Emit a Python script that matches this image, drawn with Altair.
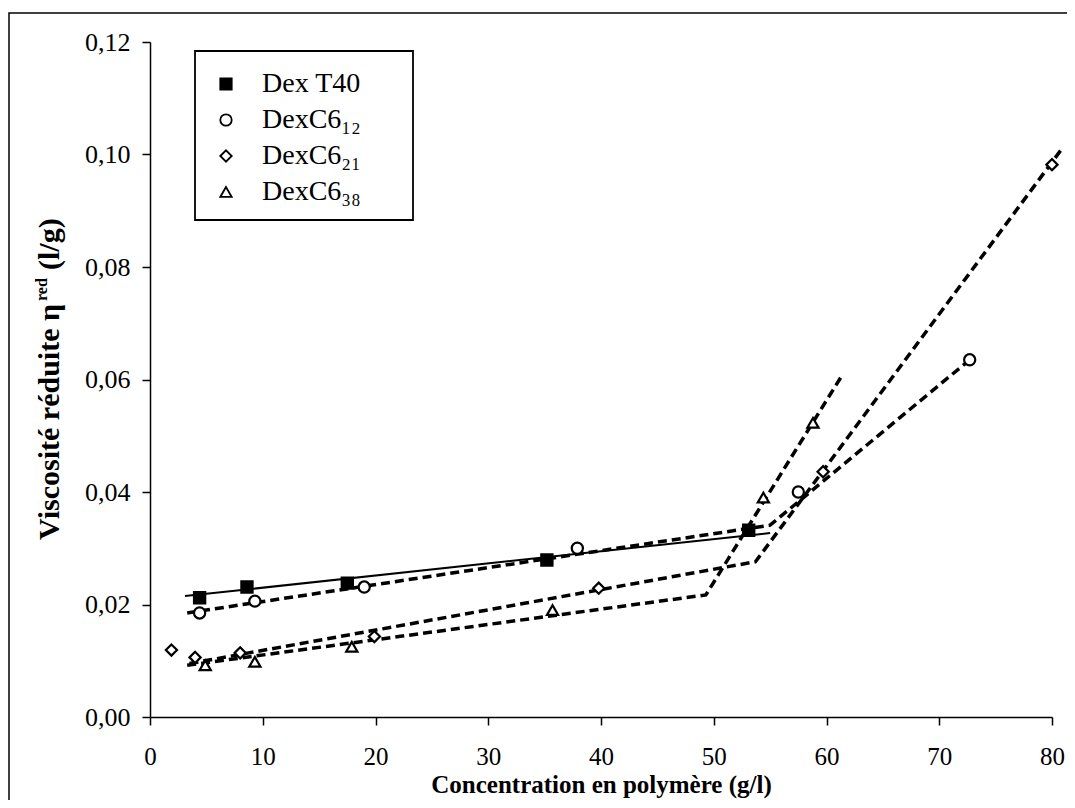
import altair as alt
import pandas as pd

# ---------------- data ----------------
series_names = ["Dex T40", "DexC6₁₂", "DexC6₂₁", "DexC6₃₈"]
series_shapes = ["square", "circle", "diamond", "triangle-up"]
series_fills = ["black", "white", "white", "white"]
series_strokes = ["black", "black", "black", "black"]

t40_x = [4.4, 8.6, 17.5, 35.2, 53.1]
t40_y = [0.0212, 0.0231, 0.0238, 0.0279, 0.0332]

c12_x = [4.4, 9.3, 19.0, 37.9, 57.5, 72.7]
c12_y = [0.0185, 0.0206, 0.0231, 0.0300, 0.0400, 0.0635]

c21_x = [1.9, 4.0, 8.0, 19.9, 39.8, 59.7, 80.0]
c21_y = [0.0119, 0.0106, 0.0114, 0.0143, 0.0229, 0.0436, 0.0982]

c38_x = [4.9, 9.3, 17.9, 35.7, 54.4, 58.8]
c38_y = [0.0092, 0.0098, 0.0125, 0.0190, 0.0390, 0.0523]

# fitted straight lines (end points / break points)
fit_t40_x = [3.1, 55.0]
fit_t40_y = [0.0215, 0.0327]
fit_c12_x = [3.3, 55.0, 73.0]
fit_c12_y = [0.0185, 0.0341, 0.0640]
fit_c21_x = [3.5, 53.7, 80.8]
fit_c21_y = [0.0095, 0.0276, 0.1008]
fit_c38_x = [3.3, 49.3, 61.4]
fit_c38_y = [0.0092, 0.0217, 0.0608]

x_ticks = [0, 10, 20, 30, 40, 50, 60, 70, 80]
y_ticks = [0.0, 0.02, 0.04, 0.06, 0.08, 0.10, 0.12]

# ---------------- tables ----------------
pts = []
for name, xs, ys in zip(series_names, [t40_x, c12_x, c21_x, c38_x], [t40_y, c12_y, c21_y, c38_y]):
    for a, b in zip(xs, ys):
        pts.append({"x": a, "y": b, "serie": name})
points_df = pd.DataFrame(pts)

fits = []
for name, xs, ys in zip(series_names,
                        [fit_t40_x, fit_c12_x, fit_c21_x, fit_c38_x],
                        [fit_t40_y, fit_c12_y, fit_c21_y, fit_c38_y]):
    for i, (a, b) in enumerate(zip(xs, ys)):
        fits.append({"x": a, "y": b, "serie": name, "o": i})
fits_df = pd.DataFrame(fits)

FONT = "Liberation Serif"
W, H = 902, 675

xscale = alt.Scale(domain=[0, 80], nice=False, zero=False)
yscale = alt.Scale(domain=[0, 0.12], nice=False, zero=False)

x_axis = alt.Axis(values=x_ticks, title="Concentration en polymère (g/l)",
                  grid=False, tickSize=8, labelPadding=19, titlePadding=3,
                  labelFontSize=25, titleFontSize=25, titleFontWeight="bold",
                  labelFont=FONT, titleFont=FONT, domainColor="black", tickColor="black",
                  labelColor="black", titleColor="black", domainWidth=1.5, tickWidth=1.5,
                  labelFlush=False, labelOverlap=False)
y_axis = alt.Axis(values=y_ticks, title=None, grid=False, tickSize=8, labelPadding=12,
                  labelFontSize=26, labelFont=FONT, labelColor="black",
                  domainColor="black", tickColor="black", domainWidth=1.5, tickWidth=1.5,
                  labelExpr="replace(format(datum.value, '.2f'), '.', ',')",
                  labelFlush=False, labelOverlap=False)

base_x = alt.X("x:Q", scale=xscale, axis=x_axis)
base_y = alt.Y("y:Q", scale=yscale, axis=y_axis)

solid = alt.Chart(fits_df).transform_filter(alt.datum.serie == series_names[0]).mark_line(
    color="black", strokeWidth=2).encode(x=base_x, y=base_y, order="o:Q", detail="serie:N")

dashed = alt.Chart(fits_df).transform_filter(alt.datum.serie != series_names[0]).mark_line(
    color="black", strokeWidth=3.5, strokeDash=[9, 5]).encode(
    x=base_x, y=base_y, order="o:Q", detail="serie:N")

leg = alt.Legend(title=None)
points = alt.Chart(points_df).mark_point(strokeWidth=2.2, opacity=1, size=125).encode(
    x=base_x, y=base_y,
    shape=alt.Shape("serie:N", scale=alt.Scale(domain=series_names, range=series_shapes),
                    legend=leg),
    fill=alt.Fill("serie:N", scale=alt.Scale(domain=series_names, range=series_fills),
                  legend=leg),
    stroke=alt.Stroke("serie:N", scale=alt.Scale(domain=series_names, range=series_strokes),
                      legend=leg),
)

# y-axis title with subscript (decoration placed outside the plot area)
ytitle1 = alt.Chart(pd.DataFrame({"t": ["Viscosité réduite η"]})).mark_text(
    font=FONT, fontSize=30, fontWeight="bold", angle=270, align="right", baseline="middle",
    color="black").encode(text="t:N", x=alt.value(-100), y=alt.value(262))
ytitle2 = alt.Chart(pd.DataFrame({"t": ["red"]})).mark_text(
    font=FONT, fontSize=16, fontWeight="bold", angle=270, align="left", baseline="middle",
    color="black").encode(text="t:N", x=alt.value(-108), y=alt.value(259))
ytitle3 = alt.Chart(pd.DataFrame({"t": ["(l/g)"]})).mark_text(
    font=FONT, fontSize=30, fontWeight="bold", angle=270, align="left", baseline="middle",
    color="black").encode(text="t:N", x=alt.value(-100), y=alt.value(228))

# outer figure frame and legend box (decoration)
frame = alt.Chart(pd.DataFrame({"a": [0]})).mark_rect(
    fill=None, stroke="black", strokeWidth=1.5).encode(
    x=alt.value(-141), x2=alt.value(980), y=alt.value(-29), y2=alt.value(820))
legend_box = alt.Chart(pd.DataFrame({"a": [0]})).mark_rect(
    fill="white", stroke="black", strokeWidth=1.8).encode(
    x=alt.value(45), x2=alt.value(263), y=alt.value(9), y2=alt.value(178))

chart = alt.layer(frame, legend_box, solid, dashed, points, ytitle1, ytitle2, ytitle3).properties(
    width=W, height=H,
    autosize=alt.AutoSizeParams(type="none"),
    padding={"left": 142, "top": 34, "right": 15, "bottom": 83},
    background="white",
).configure_view(stroke=None).configure_legend(
    orient="none", legendX=50, legendY=16, padding=12,
    labelFont=FONT, labelFontSize=28, labelColor="black",
    symbolSize=130, symbolStrokeWidth=1.8, labelOffset=22,
    rowPadding=8, labelLimit=400,
)

chart.save("out.html", embed_options={"renderer": "svg", "actions": False})
